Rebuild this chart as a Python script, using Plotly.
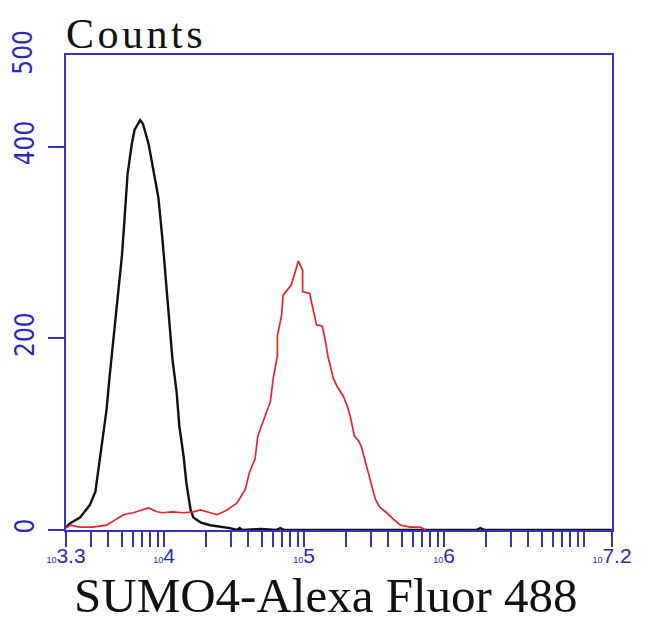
import numpy as np
import plotly.graph_objects as go

# Control (black) histogram: log10 intensity, counts
ctrl_log = [3.30, 3.33, 3.40, 3.47, 3.51, 3.54, 3.56, 3.59, 3.61, 3.64, 3.67, 3.70, 3.72, 3.74,
            3.77, 3.79, 3.83, 3.85, 3.89, 3.92, 3.96, 3.99, 4.02, 4.04, 4.06, 4.09, 4.11, 4.14,
            4.16, 4.19, 4.21, 4.26, 4.33, 4.47, 4.52, 4.54, 4.56, 4.69, 4.80, 4.83, 4.86, 5.00,
            6.23, 6.26, 6.29, 7.2]
ctrl_counts = [3, 7, 13, 26, 40, 74, 98, 126, 158, 200, 239, 287, 329, 372,
               403, 418, 428, 424, 403, 379, 347, 302, 253, 214, 179, 144, 108, 77,
               49, 21, 13, 8, 5, 2, 0, 2, 0, 1, 0, 2, 0, 0,
               0, 2, 0, 0]

# SUMO4 stained (red) histogram
samp_log = [3.30, 3.33, 3.40, 3.49, 3.59, 3.66, 3.71, 3.78, 3.85, 3.89, 3.95, 3.99, 4.06, 4.14,
            4.21, 4.26, 4.33, 4.38, 4.45, 4.52, 4.58, 4.61, 4.65, 4.67, 4.71, 4.76, 4.78, 4.81,
            4.81, 4.84, 4.85, 4.88, 4.91, 4.94, 4.96, 4.99, 4.99, 5.04, 5.06, 5.09, 5.13, 5.15,
            5.17, 5.21, 5.24, 5.28, 5.31, 5.33, 5.36, 5.39, 5.41, 5.44, 5.47, 5.51, 5.54, 5.59,
            5.64, 5.69, 5.76, 5.83, 5.87]
samp_counts = [2, 5, 3, 3, 5, 11, 16, 18, 21, 23, 19, 18, 19, 18,
               19, 21, 18, 16, 21, 28, 42, 60, 74, 98, 114, 134, 158, 182,
               203, 224, 245, 251, 256, 271, 281, 271, 249, 247, 235, 214, 213, 200,
               182, 158, 149, 140, 129, 119, 98, 93, 87, 71, 53, 32, 24, 18,
               11, 5, 3, 3, 0]

x_title = "SUMO4-Alexa Fluor 488"
y_title = "Counts"
y_tick_vals = [0, 200, 400]
y_tick_text = ["0", "200", "400"]
y_top_label = "500"
x_major_exps = [3.3, 4, 5, 6, 7.2]
x_major_text = ["3.3", "4", "5", "6", "7.2"]

BLUE = "#3434c4"
LBLUE = "#2a2ab8"
YFONT = "Liberation Sans Narrow, DejaVu Sans Condensed, Liberation Sans"

tickvals = [10 ** e for e in x_major_exps]
ticktext = ["<span style='font-size:9px'>10</span>" + t for t in x_major_text]
minor_vals = []
for n in range(3, 7):
    for k in range(2, 11):
        v = k * 10 ** n
        if 10 ** 3.3 < v < 10 ** 7.2 and v not in (1e4, 1e5, 1e6):
            minor_vals.append(v)

fig = go.Figure()
fig.add_trace(go.Scatter(x=[10 ** v for v in ctrl_log], y=ctrl_counts, mode="lines",
                         line=dict(color="#111111", width=2.4), showlegend=False))
fig.add_trace(go.Scatter(x=[10 ** v for v in samp_log], y=samp_counts, mode="lines",
                         line=dict(color="#e8242a", width=1.7), showlegend=False))

# page body has an 8px margin: figure sized/offset so the plot box lands at 66..612 x 55..530
fig.update_layout(
    width=642, height=620,
    margin=dict(l=58, r=38, t=47, b=98),
    paper_bgcolor="white", plot_bgcolor="white",
    xaxis=dict(type="log", range=[3.3, 7.2], tickmode="array", tickvals=tickvals, ticktext=ticktext,
               ticks="outside", ticklen=15, tickwidth=2, tickcolor=BLUE,
               minor=dict(tickmode="array", tickvals=minor_vals, ticks="outside", ticklen=15,
                          tickwidth=2, tickcolor=BLUE, showgrid=False),
               showline=True, linecolor=BLUE, linewidth=2, mirror=True, automargin=False,
               showgrid=False, zeroline=False, tickangle=0, ticklabelstandoff=-9,
               tickfont=dict(family="Liberation Sans", size=21, color=LBLUE)),
    yaxis=dict(range=[0, 496], tickvals=y_tick_vals, ticktext=y_tick_text,
               ticks="outside", ticklen=16, tickwidth=2, tickcolor=BLUE,
               showline=True, linecolor=BLUE, linewidth=2, mirror=True, automargin=False,
               showgrid=False, zeroline=False, tickangle=-90, ticklabelstandoff=4,
               tickfont=dict(family=YFONT, size=26, color=LBLUE)),
    annotations=[
        dict(text=y_top_label, xref="paper", yref="paper", x=-0.0778, y=1.006, showarrow=False,
             textangle=-90, xanchor="center", yanchor="middle",
             font=dict(family=YFONT, size=26, color=LBLUE)),
        dict(text="<span style='letter-spacing:3.5px'>" + y_title + "</span>", xref="paper", yref="paper",
             x=0.128, y=1.0968, showarrow=False, xanchor="center", yanchor="top",
             font=dict(family="Liberation Serif", size=42, color="#111111")),
        dict(text=x_title, xref="paper", yref="paper",
             x=0.476, y=-0.137, showarrow=False, xanchor="center", yanchor="middle",
             font=dict(family="Liberation Serif", size=49, color="#111111")),
    ],
)

fig.write_html("out.html")
